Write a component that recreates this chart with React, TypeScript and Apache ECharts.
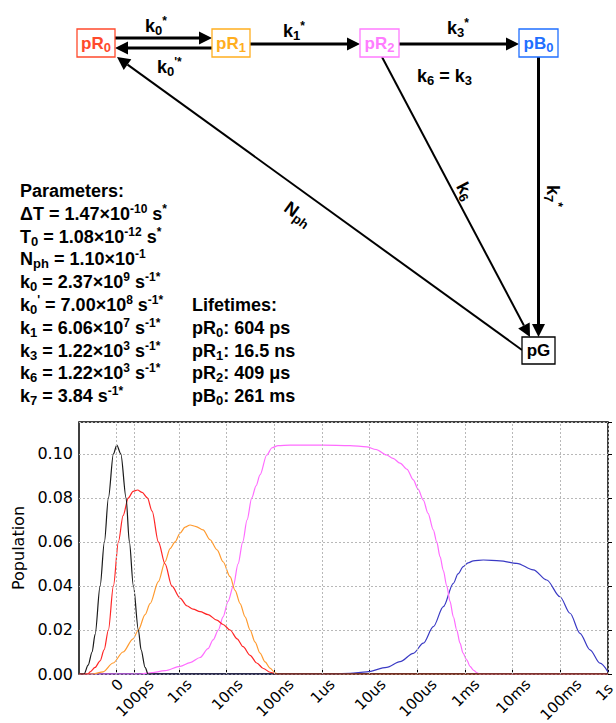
import React, { useEffect, useRef } from 'react';
import * as echarts from 'echarts';

// ---------- axis ticks (x in log10 seconds; "0" and "100ps") ----------
const xTickValues = [-10.31, -9.94, -9, -8, -7, -6, -5, -4, -3, -2, -1, 0];
const xTickLabels = ['0', '100ps', '1ns', '10ns', '100ns', '1us', '10us', '100us', '1ms', '10ms', '100ms', '1s'];
const yTicks = [0, 0.02, 0.04, 0.06, 0.08, 0.1];
const xMin = -11.1;
const xMax = 0;
const yMax = 0.1145;

// ---------- series ----------
const pulse = [
  [-11.1, 0], [-10.993, 0], [-10.909, 0.004], [-10.825, 0.01], [-10.762, 0.018], [-10.657, 0.04],
  [-10.567, 0.06], [-10.483, 0.08], [-10.378, 0.1], [-10.307, 0.104], [-10.223, 0.1], [-10.112, 0.08],
  [-10.043, 0.06], [-9.959, 0.04], [-9.854, 0.02], [-9.797, 0.011], [-9.713, 0.003], [-9.65, 0], [0, 0],
];
const pR0 = [
  [-11.1, 0], [-10.909, 0], [-10.867, 0.001], [-10.762, 0.003], [-10.657, 0.006], [-10.573, 0.011],
  [-10.483, 0.02], [-10.378, 0.04], [-10.273, 0.06], [-10.175, 0.072], [-10.064, 0.08], [-9.965, 0.083],
  [-9.871, 0.0836], [-9.776, 0.0825], [-9.665, 0.08], [-9.566, 0.074], [-9.434, 0.06], [-9.294, 0.05],
  [-9.153, 0.04], [-8.979, 0.0345], [-8.838, 0.031], [-8.706, 0.0295], [-8.559, 0.0283], [-8.392, 0.027],
  [-8.209, 0.0245], [-8.077, 0.0225], [-7.93, 0.02], [-7.783, 0.016], [-7.657, 0.0124], [-7.51, 0.0085],
  [-7.37, 0.005], [-7.231, 0.0025], [-7.091, 0.0008], [-6.965, 0], [0, 0],
];
const pR1 = [
  [-11.1, 0], [-10.804, 0], [-10.594, 0.001], [-10.385, 0.005], [-10.175, 0.01], [-9.965, 0.016],
  [-9.854, 0.02], [-9.713, 0.027], [-9.608, 0.032], [-9.434, 0.042], [-9.294, 0.051], [-9.189, 0.057],
  [-9.084, 0.06], [-8.979, 0.064], [-8.874, 0.0667], [-8.769, 0.0677], [-8.643, 0.067], [-8.497, 0.0655],
  [-8.35, 0.061], [-8.203, 0.0564], [-8.077, 0.051], [-7.93, 0.0442], [-7.825, 0.038], [-7.72, 0.032],
  [-7.615, 0.026], [-7.51, 0.02], [-7.406, 0.0145], [-7.301, 0.0095], [-7.196, 0.0055], [-7.091, 0.0027],
  [-6.986, 0.0005], [-6.923, 0], [0, 0],
];
const pR2 = [
  [-11.1, 0], [-9.818, 0], [-9.608, 0.0005], [-9.294, 0.0015], [-8.979, 0.0035], [-8.769, 0.0052],
  [-8.559, 0.0075], [-8.392, 0.0115], [-8.287, 0.0155], [-8.176, 0.02], [-8.077, 0.026], [-7.972, 0.033],
  [-7.861, 0.04], [-7.762, 0.05], [-7.664, 0.06], [-7.573, 0.07], [-7.475, 0.08], [-7.385, 0.0855],
  [-7.301, 0.0905], [-7.16, 0.0995], [-7.049, 0.1028], [-6.923, 0.1038], [-6.671, 0.104], [-5.979, 0.104],
  [-5.413, 0.1038], [-5.062, 0.1032], [-4.867, 0.102], [-4.643, 0.0995], [-4.51, 0.098], [-4.364, 0.0958],
  [-4.217, 0.093], [-4.085, 0.0882], [-3.986, 0.084], [-3.875, 0.079], [-3.776, 0.073], [-3.665, 0.0655],
  [-3.594, 0.06], [-3.524, 0.0533], [-3.455, 0.047], [-3.384, 0.04], [-3.315, 0.033], [-3.245, 0.026],
  [-3.174, 0.02], [-3.105, 0.014], [-3.042, 0.0095], [-2.964, 0.0064], [-2.895, 0.0035], [-2.826, 0.0018],
  [-2.748, 0.0005], [-2.685, 0], [0, 0],
];
const pB0 = [
  [-11.1, 0], [-5.769, 0], [-5.413, 0.0003], [-5.062, 0.001], [-4.643, 0.003], [-4.364, 0.0056],
  [-4.085, 0.0094], [-3.875, 0.014], [-3.665, 0.0215], [-3.455, 0.0306], [-3.245, 0.0412], [-3.147, 0.0455],
  [-3.036, 0.0488], [-2.937, 0.0505], [-2.826, 0.0514], [-2.616, 0.0518], [-2.266, 0.0514], [-1.915, 0.0503],
  [-1.567, 0.0473], [-1.286, 0.0427], [-1.007, 0.0351], [-0.797, 0.0276], [-0.588, 0.0185], [-0.378, 0.011],
  [-0.168, 0.0049], [0, 0.001],
];

// ---------- diagram / text content ----------
const paramLines = [
  '{m|Parameters:}',
  '{m|ΔT = 1.47×10}{sp|-10}{m| s}{sp|*}',
  '{m|T}{sb|0}{m| = 1.08×10}{sp|-12}{m| s}{sp|*}',
  '{m|N}{sb|ph}{m| = 1.10×10}{sp|-1}',
  '{m|k}{sb|0}{m| = 2.37×10}{sp|9}{m| s}{sp|-1*}',
  "{m|k}{sb|0}{sp|'}{m| = 7.00×10}{sp|8}{m| s}{sp|-1*}",
  '{m|k}{sb|1}{m| = 6.06×10}{sp|7}{m| s}{sp|-1*}',
  '{m|k}{sb|3}{m| = 1.22×10}{sp|3}{m| s}{sp|-1*}',
  '{m|k}{sb|6}{m| = 1.22×10}{sp|3}{m| s}{sp|-1*}',
  '{m|k}{sb|7}{m| = 3.84 s}{sp|-1*}',
];
const lifetimeLines = [
  '{m|Lifetimes:}',
  '{m|pR}{sb|0}{m|: 604 ps}',
  '{m|pR}{sb|1}{m|: 16.5 ns}',
  '{m|pR}{sb|2}{m|: 409 μs}',
  '{m|pB}{sb|0}{m|: 261 ms}',
];
const states = [
  { label: '{b|pR}{sb|0}', color: '#ff4a2c' },
  { label: '{b|pR}{sb|1}', color: '#ffae1f' },
  { label: '{b|pR}{sb|2}', color: '#ff7cff' },
  { label: '{b|pB}{sb|0}', color: '#1f6fff' },
  { label: '{b|pG}', color: '#000000' },
];

const F = 'Liberation Sans';
const DV = 'DejaVu Sans';

function richFor(color: string) {
  return {
    m: { fontFamily: F, fontWeight: 'bold', fontSize: 18, lineHeight: 22, fill: color },
    b: { fontFamily: F, fontWeight: 'bold', fontSize: 17, lineHeight: 22, fill: color },
    sb: { fontFamily: F, fontWeight: 'bold', fontSize: 13, lineHeight: 13, verticalAlign: 'bottom', fill: color },
    sp: { fontFamily: F, fontWeight: 'bold', fontSize: 12, lineHeight: 12, verticalAlign: 'top', fill: color },
  };
}

function text(x: number, y: number, t: string, opts: { color?: string; align?: string; rot?: number } = {}) {
  const color = opts.color || '#000';
  return {
    type: 'text',
    x,
    y,
    rotation: ((opts.rot || 0) * Math.PI) / 180,
    z: 20,
    style: {
      text: t,
      rich: richFor(color),
      fill: color,
      fontFamily: F,
      fontWeight: 'bold',
      fontSize: 18,
      align: opts.align || 'left',
      verticalAlign: 'middle',
    },
  };
}

function line(x1: number, y1: number, x2: number, y2: number, w: number) {
  return { type: 'line', z: 15, shape: { x1, y1, x2, y2 }, style: { stroke: '#000', lineWidth: w } };
}

function arrow(x1: number, y1: number, x2: number, y2: number, w: number) {
  const dx = x2 - x1;
  const dy = y2 - y1;
  const len = Math.sqrt(dx * dx + dy * dy);
  const ux = dx / len;
  const uy = dy / len;
  const hl = 13;
  const hw = 6.5;
  const bx = x2 - ux * hl;
  const by = y2 - uy * hl;
  return [
    line(x1, y1, bx, by, w),
    {
      type: 'polygon',
      z: 16,
      shape: { points: [[x2, y2], [bx - uy * hw, by + ux * hw], [bx + uy * hw, by - ux * hw]] },
      style: { fill: '#000' },
    },
  ];
}

function box(x: number, y: number, w: number, h: number, s: { label: string; color: string }) {
  return [
    { type: 'rect', z: 17, shape: { x, y, width: w, height: h }, style: { fill: '#fff', stroke: s.color, lineWidth: 1.3 } },
    text(x + w / 2, y + h / 2, s.label, { color: s.color, align: 'center' }),
  ];
}

function buildGraphic() {
  const els: any[] = [];
  els.push(...arrow(115, 38, 212, 38, 3));
  els.push(...arrow(212, 48, 115, 48, 3));
  els.push(...arrow(250, 44, 360, 44, 3));
  els.push(...arrow(399, 44, 519, 44, 3));
  els.push(...arrow(538.5, 57, 538.5, 337, 3));
  els.push(...arrow(382, 57, 530, 337, 2));
  els.push(...arrow(522, 350, 117, 57, 2));
  els.push(...box(77, 29, 38, 28, states[0]));
  els.push(...box(212, 29, 38, 28, states[1]));
  els.push(...box(360, 29, 39, 28, states[2]));
  els.push(...box(519, 29, 39, 28, states[3]));
  els.push(...box(522, 337, 33, 27, states[4]));
  els.push(text(145, 26, '{m|k}{sb|0}{sp|*}'));
  els.push(text(157, 67, "{m|k}{sb|0}{sp|'*}"));
  els.push(text(283, 31, '{m|k}{sb|1}{sp|*}'));
  els.push(text(447, 28, '{m|k}{sb|3}{sp|*}'));
  els.push(text(417, 76, '{m|k}{sb|6}{m| = k}{sb|3}'));
  els.push(text(465, 191, '{m|k}{sb|6}', { align: 'center', rot: -62 }));
  els.push(text(553, 196, '{m|k}{sb|7}{sp|*}', { align: 'center', rot: -90 }));
  els.push(text(298, 214, '{m|N}{sb|ph}', { align: 'center', rot: -36 }));
  paramLines.forEach((t, i) => els.push(text(20, 191 + i * 22.8, t)));
  lifetimeLines.forEach((t, i) => els.push(text(192, 191 + (i + 5) * 22.8, t)));
  return els;
}

function buildXLabelRich() {
  const ctx = document.createElement('canvas').getContext('2d') as CanvasRenderingContext2D;
  ctx.font = `15px "${DV}"`;
  const rich: any = {
    t: { fontFamily: DV, fontSize: 15, lineHeight: 17, verticalAlign: 'bottom', color: '#000' },
  };
  xTickLabels.forEach((lab, i) => {
    const L = ctx.measureText(lab).width;
    // the last label is nudged slightly inward so it stays on the page
    const extra = i === xTickLabels.length - 1 ? 12 : 0;
    rich['s' + i] = { fontFamily: DV, fontSize: 15, width: L / 2 + extra, lineHeight: 17 + L / 2, color: '#000' };
  });
  return rich;
}

export default function App() {
  const ref = useRef<HTMLDivElement>(null);
  useEffect(() => {
    const chart = echarts.init(ref.current as HTMLDivElement, null, { renderer: 'svg' });
    const gridColor = '#b8b8b8';
    // label order: start with a label that does not touch its neighbour, so none is dropped
    const labelValues = [xTickValues[2], ...xTickValues.filter((_, i) => i !== 2)];
    const mkSeries = (name: string, data: number[][], color: string) => ({
      name,
      type: 'line',
      data,
      showSymbol: false,
      symbol: 'none',
      smooth: 0.3,
      smoothMonotone: 'x',
      lineStyle: { color, width: 1.2 },
      z: 3,
    });
    chart.setOption({
      animation: false,
      backgroundColor: '#fff',
      grid: {
        left: 79,
        right: 8,
        top: 422,
        bottom: 49,
        show: true,
        borderColor: '#000',
        borderWidth: 1.5,
        backgroundColor: 'transparent',
        containLabel: false,
        outerBoundsMode: 'none',
      },
      xAxis: {
        type: 'value',
        min: xMin,
        max: xMax,
        axisLine: { show: false },
        splitLine: { show: false },
        axisTick: { show: true, inside: true, length: 4, customValues: xTickValues, lineStyle: { color: '#000' } },
        axisLabel: {
          customValues: labelValues,
          rotate: 45,
          margin: 7,
          align: 'center',
          verticalAlign: 'middle',
          showMinLabel: true,
          showMaxLabel: true,
          hideOverlap: false,
          fontFamily: DV,
          fontSize: 15,
          color: '#000',
          rich: buildXLabelRich(),
          formatter: (v: number) => {
            let best = 0;
            xTickValues.forEach((tv, i) => {
              if (Math.abs(tv - v) < Math.abs(xTickValues[best] - v)) best = i;
            });
            return `{t|${xTickLabels[best]}}{s${best}| }`;
          },
        },
      },
      yAxis: {
        type: 'value',
        min: 0,
        max: yMax,
        interval: 0.02,
        name: 'Population',
        nameLocation: 'middle',
        nameGap: 50,
        nameTextStyle: { fontFamily: DV, fontSize: 16, color: '#000' },
        axisLine: { show: false },
        axisTick: { show: true, inside: true, length: 4, lineStyle: { color: '#000' } },
        splitLine: { show: true, lineStyle: { color: gridColor, type: [2, 2], width: 1 } },
        axisLabel: {
          margin: 6,
          fontFamily: DV,
          fontSize: 16,
          color: '#000',
          formatter: (v: number) => {
            const hit = yTicks.some((t) => Math.abs(t - v) < 1e-9);
            return hit ? v.toFixed(2) : '';
          },
        },
      },
      graphic: { elements: buildGraphic() },
      series: [
        {
          name: 'grid',
          type: 'line',
          data: [[xMin, 0]],
          symbol: 'none',
          lineStyle: { width: 0 },
          z: 1,
          markLine: {
            silent: true,
            symbol: 'none',
            label: { show: false },
            lineStyle: { color: gridColor, type: [2, 2], width: 1 },
            data: xTickValues.map((v) => ({ xAxis: v })),
          },
        },
        mkSeries('pB0', pB0, '#3a3ac4'),
        mkSeries('pR2', pR2, '#ff6cff'),
        mkSeries('pR1', pR1, '#ff9a2e'),
        mkSeries('pR0', pR0, '#ff2626'),
        mkSeries('pulse', pulse, '#1a1a1a'),
      ],
    });
    return () => chart.dispose();
  }, []);
  return (
    <div
      ref={ref}
      style={{ position: 'fixed', left: 0, top: 0, width: 616, height: 723, background: '#fff' }}
    />
  );
}
